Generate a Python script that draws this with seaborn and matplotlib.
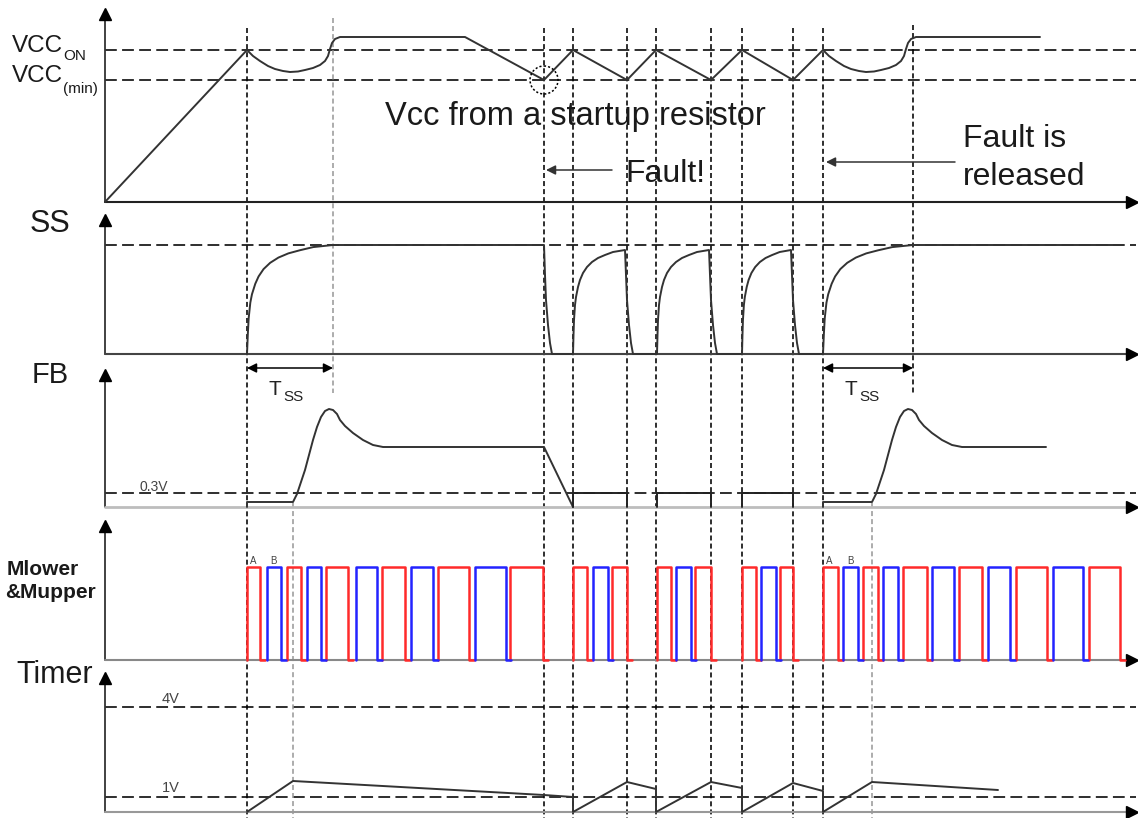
import numpy as np
import pandas as pd
import matplotlib
matplotlib.use("Agg")
import matplotlib.pyplot as plt
import seaborn as sns
from matplotlib.patches import Circle

sns.set_style("white")
plt.rcParams["font.family"] = ["Liberation Sans", "DejaVu Sans"]
plt.rcParams["lines.scale_dashes"] = False

# time marks (diagram x units) where the events happen
t_start = 247
t_fb_rise = 293
t_ss_done = 333
t_fault = 544
t_restart = [573, 657, 742]
t_stop = [627, 711, 793]
t_release = 823
t_fb_rise2 = 872
t_ss_done2 = 913
event_lines = [247, 544, 573, 627, 656, 711, 742, 793, 823]

# signal levels (diagram y units, down is larger)
vcc_base, vcc_on, vcc_min, vcc_hi = 202, 50, 80, 37
ss_base, ss_top, ss_short_top = 354, 245, 250
fb_base, fb_03v, fb_low, fb_peak, fb_steady = 507, 493, 502, 410, 447
sw_base, sw_high = 660, 567
tm_base, tm_4v, tm_1v = 812, 707, 797

# VCC dip after turn-on (offset from start, level)
vcc_dip_dx = [0, 6, 13, 21, 28, 36, 43, 51, 58, 66, 73, 78, 81, 83, 85, 88, 93]
vcc_dip_y = [50, 56, 61, 66, 69, 71, 72, 71.5, 70, 68, 65, 61, 56, 49, 43, 39, 37]

# VCC waveform pieces
vcc_ramp_x = [105, 247]
vcc_ramp_y = [202, 50]
vcc_mid_x = [465, 544, 573, 627, 656, 711, 742, 793, 823]
vcc_mid_y = [37, 80, 50, 80, 50, 80, 50, 80, 50]
vcc_end_x = 1040

# soft-start rise shape (offset from start, level)
ss_rise_dx = [0, 0.5, 1, 2, 3, 5, 7, 10, 14, 19, 25, 32, 40, 52]
ss_rise_y = [354, 335, 320, 305, 297, 287, 280, 273, 267, 262, 258, 255, 252, 250]
ss_fall_dx = [0, 1, 2, 4, 6, 8]
ss_fall_y = [250, 275, 300, 325, 343, 354]

# FB bump shape (offset from rise start, level)
fb_bump_dx = [0, 4, 8, 12, 16, 20, 24, 28, 32, 36, 40, 44, 47, 52, 60, 70, 80, 90, 97]
fb_bump_y = [502, 494, 482, 470, 455, 440, 427, 417, 411, 409, 410, 414, 420, 426, 433, 440, 445, 447, 447]

# switching pulses (start, end)
red_on = [247, 287, 326, 382, 438, 510, 573, 612, 657, 695, 742, 780,
          823, 863, 903, 959, 1016, 1089]
red_off = [260, 301, 348, 405, 469, 543, 587, 627, 671, 711, 756, 793,
           838, 878, 927, 982, 1047, 1120]
blue_on = [267, 307, 356, 411, 475, 593, 676, 761, 843, 883, 932, 988, 1053]
blue_off = [281, 321, 377, 433, 506, 608, 691, 776, 858, 898, 954, 1010, 1083]

# Timer waveform
timer_x = [247, 293, 544, 573, 573, 627, 656, 656, 711, 742, 742, 793, 823, 823, 872, 998]
timer_y = [812, 781, 795, 797, 812, 782, 789, 812, 782, 788, 812, 783, 791, 812, 782, 790]

fig = plt.figure(figsize=(11.38, 8.18), dpi=100)
ax = fig.add_axes([0, 0, 1, 1])
ax.set_xlim(0, 1138)
ax.set_ylim(818, 0)
ax.axis("off")

long_dash = (0, (8.5, 3.8))
short_dash = (0, (3.6, 2.2))
lw = 1.15
wave = dict(sort=False, estimator=None, color="#333333", lw=1.4, ax=ax, zorder=5)

# reference levels
for y in [vcc_on, vcc_min, ss_top, fb_03v, tm_4v, tm_1v]:
    ax.plot([105, 1136], [y, y], color="black", lw=lw, ls=long_dash, zorder=2)

# event verticals
for x in event_lines:
    ax.plot([x, x], [28, 818], color="black", lw=lw, ls=short_dash, zorder=2)
ax.plot([t_ss_done, t_ss_done], [18, 393], color="#9a9a9a", lw=lw, ls=short_dash, zorder=2)
ax.plot([t_ss_done2, t_ss_done2], [25, 393], color="black", lw=lw, ls=short_dash, zorder=2)
for x in [t_fb_rise, t_fb_rise2]:
    ax.plot([x, x], [503, 818], color="#9a9a9a", lw=lw, ls=short_dash, zorder=2)

# axes with arrow heads
panels = [(10, vcc_base, "#222222"), (216, ss_base, "#444444"), (371, fb_base, "#bdbdbd"),
          (522, sw_base, "#888888"), (674, tm_base, "#999999")]
for top, base, col in panels:
    ax.plot([105, 105], [top + 4, base], color="#333333", lw=1.3, zorder=3)
    ax.plot(105, top + 4, marker="^", color="black", ms=8, zorder=4)
    ax.plot([105, 1132], [base, base], color=col, lw=2.0 if base == fb_base else 1.5, zorder=3)
    ax.plot(1132, base, marker=">", color="black", ms=8, zorder=4)

# VCC
shift = t_release - t_start
vcc_x = (vcc_ramp_x + [t_start + d for d in vcc_dip_dx] + vcc_mid_x[:-1]
         + [t_release + d for d in vcc_dip_dx] + [vcc_end_x])
vcc_y = vcc_ramp_y + vcc_dip_y + vcc_mid_y[:-1] + vcc_dip_y + [vcc_hi]
sns.lineplot(x=vcc_x, y=vcc_y, **wave)
ax.add_patch(Circle((t_fault, vcc_min), 14, fill=False, ls=(0, (1.5, 1.5)), lw=1.1, color="black", zorder=5))


def long_rise(t0, t1):
    span = (t1 - t0) / ss_rise_dx[-1]
    xs = [t0 + dx * span for dx in ss_rise_dx]
    ys = [ss_top + (y - ss_short_top) * (ss_base - ss_top) / (ss_base - ss_short_top) for y in ss_rise_y]
    return xs, ys


# SS
ss_x, ss_y = long_rise(t_start, t_ss_done)
ss_x += [t_fault + d for d in ss_fall_dx]
ss_y += [ss_top] + ss_fall_y[1:]
for t0, t1 in zip(t_restart, t_stop):
    ss_x += [t0 + dx * (t1 - 2 - t0) / ss_rise_dx[-1] for dx in ss_rise_dx]
    ss_y += ss_rise_y
    ss_x += [t1 - 2 + dx for dx in ss_fall_dx]
    ss_y += ss_fall_y
xs, ys = long_rise(t_release, t_ss_done2)
ss_x += xs + [1123]
ss_y += ys + [ss_top]
sns.lineplot(x=ss_x, y=ss_y, **wave)

# FB
fb_x = [t_start, t_start] + [t_fb_rise + d for d in fb_bump_dx] + [t_fault, t_restart[0]]
fb_y = [fb_base, fb_low] + fb_bump_y + [fb_steady, fb_base]
sns.lineplot(x=fb_x, y=fb_y, **wave)
for t0, t1 in zip(t_restart, t_stop):
    ax.plot([t0, t0, t1, t1], [fb_base, fb_03v, fb_03v, fb_base], color="#222222", lw=1.4, zorder=5)
fb2_x = [t_release, t_release] + [t_fb_rise2 + d for d in fb_bump_dx] + [1046]
fb2_y = [fb_base, fb_low] + fb_bump_y + [fb_steady]
sns.lineplot(x=fb2_x, y=fb2_y, **wave)

# switching pulses
rows = []
for name, ons, offs in [("red", red_on, red_off), ("blue", blue_on, blue_off)]:
    for i, (a, b) in enumerate(zip(ons, offs)):
        for px, py in [(a, sw_base), (a, sw_high), (b, sw_high), (b, sw_base), (b + 5, sw_base)]:
            rows.append({"x": px, "y": py, "pulse": f"{name}{i}", "phase": name})
pulses = pd.DataFrame(rows)
sns.lineplot(data=pulses, x="x", y="y", units="pulse", hue="phase", estimator=None, sort=False,
             palette={"red": "#ff2a2a", "blue": "#2323ff"}, lw=1.8, legend=False, ax=ax, zorder=6)

# Timer
sns.lineplot(x=timer_x, y=timer_y, **wave)

# T_SS arrows
for a, b in [(t_start, t_ss_done), (t_release, t_ss_done2)]:
    ax.annotate("", xy=(b, 368), xytext=(a, 368),
                arrowprops=dict(arrowstyle="<|-|>", color="black", lw=1.1, mutation_scale=14,
                                shrinkA=0, shrinkB=0), zorder=6)
    ax.text(a + 22, 395, "T", fontsize=15, va="baseline", ha="left", color="#222222")
    ax.text(a + 36, 401, "SS", fontsize=11, va="baseline", ha="left", color="#222222")

# fault arrows
ax.annotate("", xy=(546, 170), xytext=(612, 170),
            arrowprops=dict(arrowstyle="-|>", color="#333333", lw=1.1, mutation_scale=14,
                            shrinkA=0, shrinkB=0), zorder=6)
ax.annotate("", xy=(826, 162), xytext=(955, 162),
            arrowprops=dict(arrowstyle="-|>", color="#333333", lw=1.1, mutation_scale=14,
                            shrinkA=0, shrinkB=0), zorder=6)

# texts
txt = dict(va="baseline", ha="left", color="#1a1a1a")
ax.text(12, 52, "VCC", fontsize=17.5, **txt)
ax.text(63, 60, "ON", fontsize=11, **txt)
ax.text(12, 82, "VCC", fontsize=17.5, **txt)
ax.text(63, 93, "(min)", fontsize=11, **txt)
ax.text(385, 125, "Vcc from a startup resistor", fontsize=23.5, **txt)
ax.text(625, 182, "Fault!", fontsize=23, **txt)
ax.text(963, 147, "Fault is", fontsize=23, **txt)
ax.text(963, 185, "released", fontsize=23, **txt)
ax.text(30, 232, "SS", fontsize=22, **txt)
ax.text(32, 383, "FB", fontsize=21, **txt)
ax.text(16, 683, "Timer", fontsize=22, **txt)
ax.text(7, 575, "Mlower", fontsize=15, fontweight="bold", **txt)
ax.text(5, 598, "&Mupper", fontsize=15, fontweight="bold", **txt)
ax.text(140, 491, "0.3V", fontsize=10, va="baseline", ha="left", color="#444444")
ax.text(162, 703, "4V", fontsize=10.5, va="baseline", ha="left", color="#444444")
ax.text(162, 792, "1V", fontsize=10.5, va="baseline", ha="left", color="#444444")
for x, s in [(250, "A"), (270, "B"), (826, "A"), (847, "B")]:
    ax.text(x, 564, s, fontsize=7, va="baseline", ha="left", color="#444444")

fig.savefig("out.png", dpi=100)
